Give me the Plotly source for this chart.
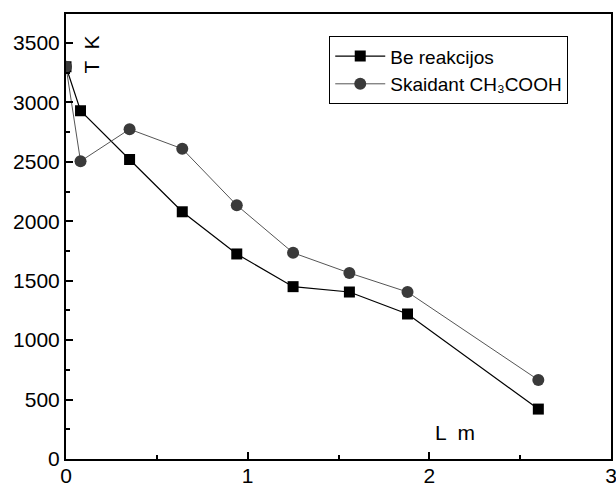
import plotly.graph_objects as go

L_m = [0, 0.08, 0.35, 0.64, 0.94, 1.25, 1.56, 1.88, 2.60]
T_be_reakcijos = [3300, 2930, 2520, 2080, 1725, 1450, 1405, 1220, 420]
T_skaidant = [3300, 2505, 2775, 2610, 2135, 1735, 1565, 1405, 665]

x_ticks = [0, 1, 2, 3]
y_ticks = [0, 500, 1000, 1500, 2000, 2500, 3000, 3500]

fig = go.Figure()
fig.add_trace(go.Scatter(
    x=L_m, y=T_be_reakcijos, mode="lines+markers", name="Be reakcijos",
    line=dict(color="black", width=1.2),
    marker=dict(symbol="square", size=11, color="black"),
))
fig.add_trace(go.Scatter(
    x=L_m, y=T_skaidant, mode="lines+markers", name="Skaidant CH₃COOH",
    line=dict(color="#555555", width=1),
    marker=dict(symbol="circle", size=12, color="#3a3a3a"),
))

fig.update_layout(
    width=616, height=487,
    margin=dict(l=66, r=5, t=14, b=28),
    paper_bgcolor="white", plot_bgcolor="white",
    font=dict(family="Liberation Sans, Arial, sans-serif", size=21, color="black"),
    showlegend=True,
    legend=dict(
        x=0.483, y=0.95, xanchor="left", yanchor="top",
        bgcolor="white", bordercolor="black", borderwidth=1,
        font=dict(size=19), tracegroupgap=0, itemwidth=50,
    ),
    xaxis=dict(
        range=[0, 3], tickvals=x_ticks, ticks="inside", ticklen=7, tickwidth=1.5,
        tickcolor="black", showline=True, linecolor="black", linewidth=2, mirror=True,
        showgrid=False, zeroline=False, tickfont=dict(size=21),
        automargin=False, ticklabeloverflow="allow", ticklabelstandoff=-3,
        minor=dict(ticks="inside", dtick=0.5, ticklen=4, tickwidth=1.5, tickcolor="black", showgrid=False),
    ),
    yaxis=dict(
        range=[0, 3744], tickvals=y_ticks, ticks="inside", ticklen=7, tickwidth=1.5,
        tickcolor="black", showline=True, linecolor="black", linewidth=2, mirror=True,
        showgrid=False, zeroline=False, tickfont=dict(size=21), automargin=False,
        ticklabeloverflow="allow",
        minor=dict(ticks="inside", dtick=250, ticklen=4, tickwidth=1.5, tickcolor="black", showgrid=False),
    ),
    annotations=[
        dict(text="T  K", x=0.045, y=0.955, xref="paper", yref="paper", textangle=-90,
             showarrow=False, xanchor="center", yanchor="top", font=dict(size=21)),
        dict(text="L  m", x=0.713, y=0.03, xref="paper", yref="paper",
             showarrow=False, xanchor="center", yanchor="bottom", font=dict(size=21)),
    ],
)

fig.write_html("out.html")
